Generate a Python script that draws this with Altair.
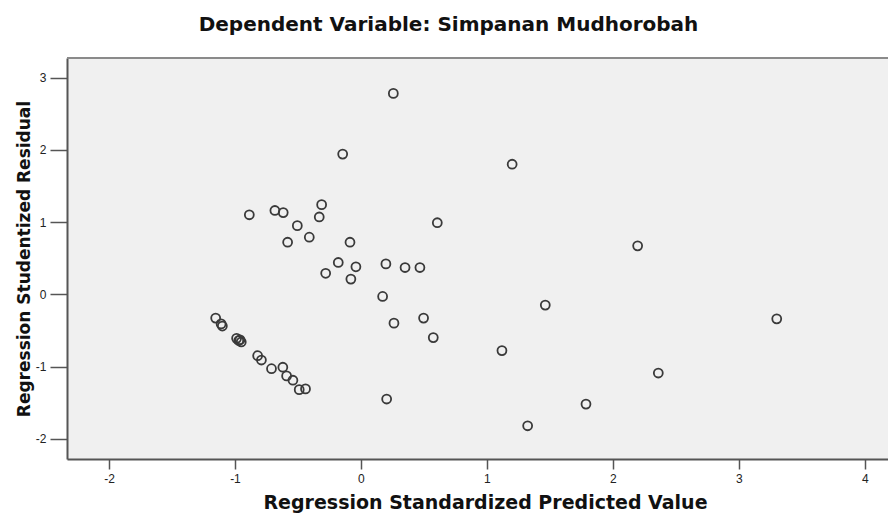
import altair as alt
import pandas as pd

# Regression Standardized Predicted Value (x) and Studentized Residual (y)
pred = [-0.145, -0.886, -0.683, -0.617, -0.312, -0.331, -0.505, -0.410, -0.582, -0.087,
        -0.18, -0.28, -0.04, -0.08, -1.153, -1.11, -1.10, -0.987, -0.97, -0.95,
        -0.96, -0.82, -0.79, -0.71, -0.62, -0.59, -0.54, -0.49, -0.44, 0.257,
        1.20, 0.606, 2.196, 0.198, 0.35, 0.468, 0.172, 0.262, 0.497, 0.574,
        1.119, 1.463, 0.204, 1.323, 1.786, 2.36, 3.30]
resid = [1.94, 1.10, 1.16, 1.13, 1.24, 1.07, 0.95, 0.79, 0.72, 0.72,
         0.44, 0.29, 0.38, 0.21, -0.33, -0.41, -0.44, -0.61, -0.64, -0.66,
         -0.63, -0.85, -0.91, -1.03, -1.01, -1.13, -1.19, -1.32, -1.31, 2.78,
         1.80, 0.99, 0.67, 0.42, 0.37, 0.37, -0.03, -0.40, -0.33, -0.60,
         -0.78, -0.15, -1.45, -1.82, -1.52, -1.09, -0.34]

x_ticks = [-2, -1, 0, 1, 2, 3, 4]
y_ticks = [-2, -1, 0, 1, 2, 3]

title_text = "Dependent Variable: Simpanan Mudhorobah"
x_title = "Regression Standardized Predicted Value"
y_title = "Regression Studentized Residual"

df = pd.DataFrame({"pred": pred, "resid": resid})

W, H = 821, 401

points = alt.Chart(df).mark_point(
    shape="circle", filled=False, size=80, strokeWidth=1.8,
    color="#3a3a3a", opacity=1
).encode(
    x=alt.X("pred:Q", scale=alt.Scale(domain=[-2.333, 4.183], nice=False, zero=False),
            axis=alt.Axis(values=x_ticks, title=x_title, tickSize=10, labelPadding=4,
                          labelExpr="toString(datum.value)",
                          titleFontSize=19, titleX=418, titleY=49,
                          titleBaseline="alphabetic", titleAlign="center")),
    y=alt.Y("resid:Q", scale=alt.Scale(domain=[-2.28, 3.27], nice=False, zero=False),
            axis=alt.Axis(values=y_ticks, title=y_title, tickSize=17, labelPadding=4,
                          labelExpr="toString(datum.value)",
                          titleFontSize=17, titleX=-38, titleY=H / 2, titleAngle=-90,
                          titleBaseline="alphabetic", titleAlign="center")),
)

top_border = alt.Chart(pd.DataFrame({"a": [0]})).mark_rule(
    color="#8a8a8a", strokeWidth=2
).encode(x=alt.value(0), x2=alt.value(W), y=alt.value(0))

chart = alt.layer(points, top_border).properties(
    width=W, height=H,
    title=alt.TitleParams(title_text, font="DejaVu Sans", fontSize=20, fontWeight="bold",
                          color="#111111", anchor="middle", dx=-29, offset=6,
                          baseline="alphabetic"),
    autosize=alt.AutoSizeParams(type="none"),
    padding={"left": 59, "top": 50, "right": 0, "bottom": 57},
).configure_view(
    fill="#f0f0f0", strokeWidth=0
).configure_axis(
    grid=False, domainColor="#555555", domainWidth=2, tickColor="#555555", tickWidth=1.5,
    labelFont="Liberation Sans", labelFontSize=12, labelColor="#222222",
    titleFont="DejaVu Sans", titleFontWeight="bold", titleColor="#111111"
)

chart.save("out.html", embed_options={"renderer": "svg", "actions": False})
